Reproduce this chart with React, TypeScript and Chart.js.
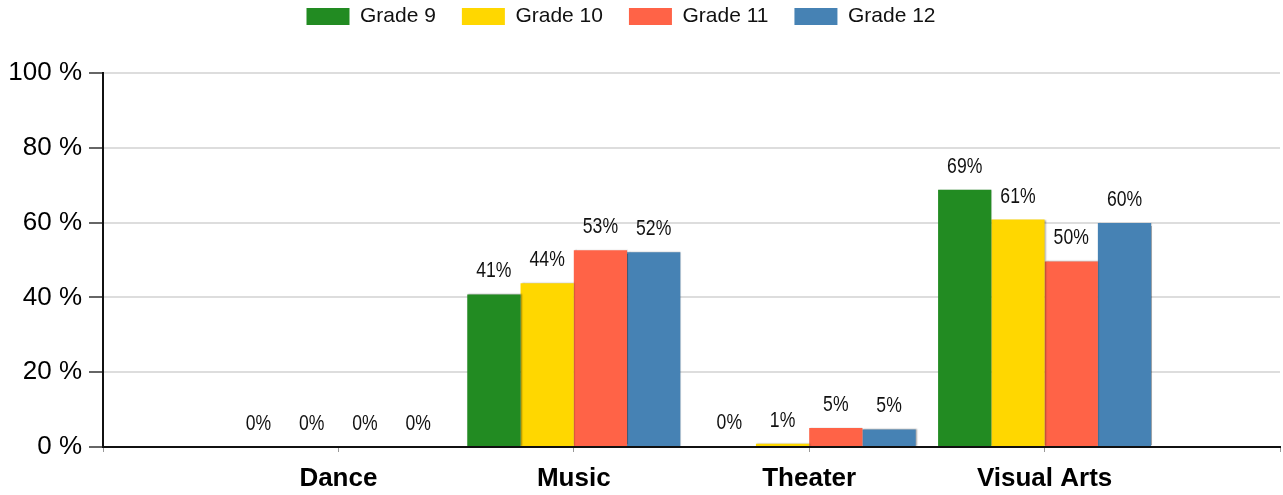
import React, { useEffect, useRef } from "react";
import { Chart, registerables } from "chart.js";

Chart.register(...registerables);

const categories = ["Dance", "Music", "Theater", "Visual Arts"];
const seriesNames = ["Grade 9", "Grade 10", "Grade 11", "Grade 12"];
const grade9 = [0, 40.8, 0.3, 68.8];
const grade10 = [0, 43.8, 0.9, 60.8];
const grade11 = [0, 52.6, 5.1, 49.6];
const grade12 = [0, 52.1, 4.7, 59.9];
const seriesColors = ["#228B22", "#FFD700", "#FF6347", "#4682B4"];
const yTicks = [0, 20, 40, 60, 80, 100];

const FONT = "'Liberation Sans', Arial, sans-serif";

const barShadow = {
  id: "barShadow",
  beforeDatasetsDraw(chart: any) {
    const ctx = chart.ctx;
    ctx.save();
    ctx.shadowColor = "rgba(0,0,0,0.35)";
    ctx.shadowOffsetX = 1;
    ctx.shadowOffsetY = 0;
    ctx.shadowBlur = 1.5;
  },
  afterDatasetsDraw(chart: any) {
    chart.ctx.restore();
  },
};

const valueLabels = {
  id: "valueLabels",
  afterDatasetsDraw(chart: any) {
    const ctx = chart.ctx;
    ctx.save();
    ctx.font = `22px ${FONT}`;
    ctx.fillStyle = "#111";
    ctx.textAlign = "center";
    ctx.textBaseline = "alphabetic";
    chart.data.datasets.forEach((ds: any, di: number) => {
      const meta = chart.getDatasetMeta(di);
      meta.data.forEach((bar: any, i: number) => {
        const v = ds.data[i];
        if (v === null || v === undefined) return;
        ctx.save();
        ctx.translate(bar.x, bar.y - 17);
        ctx.scale(0.8, 1);
        ctx.fillText(Math.round(v) + "%", 0, 0);
        ctx.restore();
      });
    });
    ctx.restore();
  },
};

const legendShift = {
  id: "legendShift",
  afterLayout(chart: any) {
    const lg = chart.legend;
    if (lg) {
      lg.left -= 19;
      lg.right -= 19;
      lg.top -= 36;
      lg.bottom -= 36;
    }
  },
};

export default function App() {
  const ref = useRef<HTMLCanvasElement | null>(null);
  useEffect(() => {
    document.body.style.margin = "0";
    if (!ref.current) return;
    const labels = ["", ...categories, ""];
    const all = [grade9, grade10, grade11, grade12];
    const chart = new Chart(ref.current, {
      type: "bar",
      data: {
        labels,
        datasets: all.map((vals, k) => ({
          label: seriesNames[k],
          data: [null, ...vals, null],
          backgroundColor: seriesColors[k],
          borderWidth: 0,
          categoryPercentage: 0.905,
          barPercentage: 1,
        })),
      },
      options: {
        animation: false,
        responsive: false,
        maintainAspectRatio: false,
        layout: { padding: { left: 0, right: 3, top: 16, bottom: 0 } },
        plugins: {
          tooltip: { enabled: false },
          legend: {
            position: "top",
            labels: {
              boxWidth: 43,
              boxHeight: 17,
              padding: 26,
              color: "#111",
              font: { family: FONT, size: 21 },
            },
          },
        },
        scales: {
          x: {
            type: "category",
            offset: false,
            afterFit(axis: any) {
              axis.height = 48;
              axis.paddingLeft = 0;
              axis.paddingRight = 0;
            },
            grid: {
              display: true,
              offset: false,
              drawOnChartArea: false,
              drawTicks: true,
              tickLength: 5,
              color: "#999",
            },
            border: { color: "#111", width: 2 },
            ticks: {
              color: "#000",
              font: { family: FONT, size: 26, weight: "bold" },
              padding: 11,
              maxRotation: 0,
              autoSkip: false,
            },
          },
          y: {
            min: 0,
            max: 100,
            afterFit(axis: any) {
              axis.width = 103;
            },
            afterBuildTicks(axis: any) {
              axis.ticks = yTicks.map((v) => ({ value: v }));
            },
            grid: {
              color: "#dddddd",
              lineWidth: 2,
              tickLength: 14,
              tickColor: "#666",
            },
            border: { color: "#111", width: 2 },
            ticks: {
              color: "#000",
              font: { family: FONT, size: 26 },
              padding: 7,
              callback: (v: any) => v + " %",
            },
          },
        },
      },
      plugins: [barShadow, valueLabels, legendShift],
    } as any);
    return () => chart.destroy();
  }, []);
  return (
    <div style={{ width: 1283, height: 495 }}>
      <canvas ref={ref} width={1283} height={495} style={{ width: 1283, height: 495, display: "block" }} />
    </div>
  );
}
